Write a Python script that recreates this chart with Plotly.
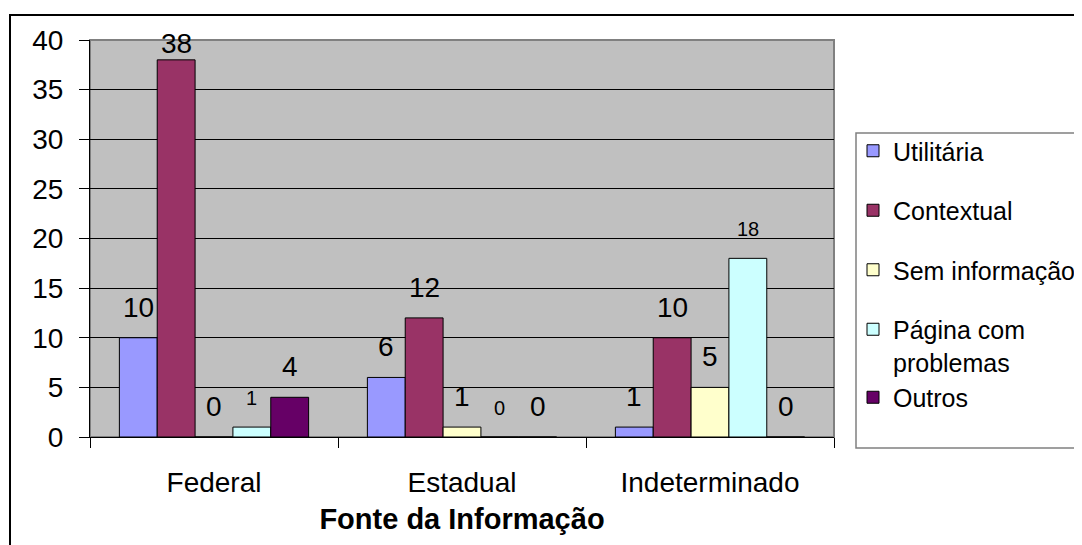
import plotly.graph_objects as go

# ---- data ----
categories = ["Federal", "Estadual", "Indeterminado"]
series_names = ["Utilitária", "Contextual", "Sem informação", "Página com<br>problemas", "Outros"]
utilitaria = [10, 6, 1]
contextual = [38, 12, 10]
sem_informacao = [0, 1, 5]
pagina_problemas = [1, 0, 18]
outros = [4, 0, 0]
series_values = [utilitaria, contextual, sem_informacao, pagina_problemas, outros]
y_ticks = [0, 5, 10, 15, 20, 25, 30, 35, 40]

# ---- styles ----
colors = ["#9999FF", "#993366", "#FFFFCC", "#CCFFFF", "#660066"]
label_sizes = [28, 28, 28, 20, 28]
legend_groups = ["g1", "g2", "g3", "g4", "g4"]
FONT = "Liberation Sans, Arial, sans-serif"
PAGE_OFF = 8  # browser body margin
W, H = 1082 - PAGE_OFF, 545 - PAGE_OFF
L, R, T, B = 90 - PAGE_OFF, 248, 40 - PAGE_OFF, 108
BARGAP = 0.237
YMAX = 40
pw, ph = W - L - R, H - T - B

def px_x(px):  # page pixel -> paper
    return (px - PAGE_OFF - L) / pw

def px_y(py):
    return (H - B - (py - PAGE_OFF)) / ph

fig = go.Figure()
for name, vals, col, grp in zip(series_names, series_values, colors, legend_groups):
    fig.add_trace(go.Bar(
        x=categories, y=vals, name=name,
        marker=dict(color=col, line=dict(color="black", width=1)),
        legendgroup=grp,
    ))

# data labels (kept inside the chart near the top, like the original)
n = len(series_values)
for j, vals in enumerate(series_values):
    for i, v in enumerate(vals):
        off = (-0.5 + (j + 0.5) / n) * (1 - BARGAP)
        fs = label_sizes[j]
        base_shift = 13 if fs > 22 else 16
        box_h = fs * 1.3
        room = (YMAX - v) * ph / YMAX + 15 - box_h
        fig.add_annotation(
            x=i + off, y=v, xref="x", yref="y",
            text=str(v), showarrow=False, yanchor="bottom",
            yshift=min(base_shift, room),
            font=dict(size=fs, color="black", family=FONT),
        )

shapes = [
    dict(type="rect", xref="x domain", yref="y domain", x0=0, x1=1, y0=0, y1=1,
         line=dict(color="#808080", width=2), layer="below"),
    dict(type="rect", xref="paper", yref="paper",
         x0=px_x(10), x1=px_x(1082 + 20), y0=px_y(545 + 20), y1=px_y(15),
         line=dict(color="black", width=2)),
    dict(type="rect", xref="paper", yref="paper",
         x0=px_x(856), x1=px_x(1082 + 20), y0=px_y(448), y1=px_y(133),
         line=dict(color="#808080", width=1.5), fillcolor="white", layer="below"),
]

fig.update_layout(
    width=W, height=H,
    margin=dict(l=L, r=R, t=T, b=B, autoexpand=False),
    paper_bgcolor="white", plot_bgcolor="#C0C0C0",
    barmode="group", bargap=BARGAP, bargroupgap=0,
    font=dict(family=FONT, color="black"),
    showlegend=True,
    legend=dict(
        x=px_x(853), y=px_y(128), xanchor="left", yanchor="top",
        xref="paper", yref="paper",
        bgcolor="rgba(0,0,0,0)", borderwidth=0,
        font=dict(size=25, family=FONT, color="black"),
        traceorder="grouped", tracegroupgap=24, valign="top",
    ),
    shapes=shapes,
)
fig.update_xaxes(
    type="category", showline=True, linecolor="black", linewidth=1,
    ticks="outside", tickson="boundaries", ticklen=10, tickcolor="black",
    tickfont=dict(size=28, family=FONT, color="black"),
    ticklabelstandoff=20,
    title=dict(text="<b>Fonte da Informação</b>", font=dict(size=29, family=FONT, color="black"), standoff=12),
    showgrid=False, zeroline=False, automargin=False,
)
fig.update_yaxes(
    range=[0, YMAX], tickvals=y_ticks, showline=True, linecolor="black", linewidth=1,
    ticks="outside", ticklen=10, tickcolor="black",
    tickfont=dict(size=28, family=FONT, color="black"),
    ticklabelstandoff=10,
    showgrid=True, gridcolor="black", gridwidth=1, zeroline=False, automargin=False,
)

fig.write_html("out.html")
